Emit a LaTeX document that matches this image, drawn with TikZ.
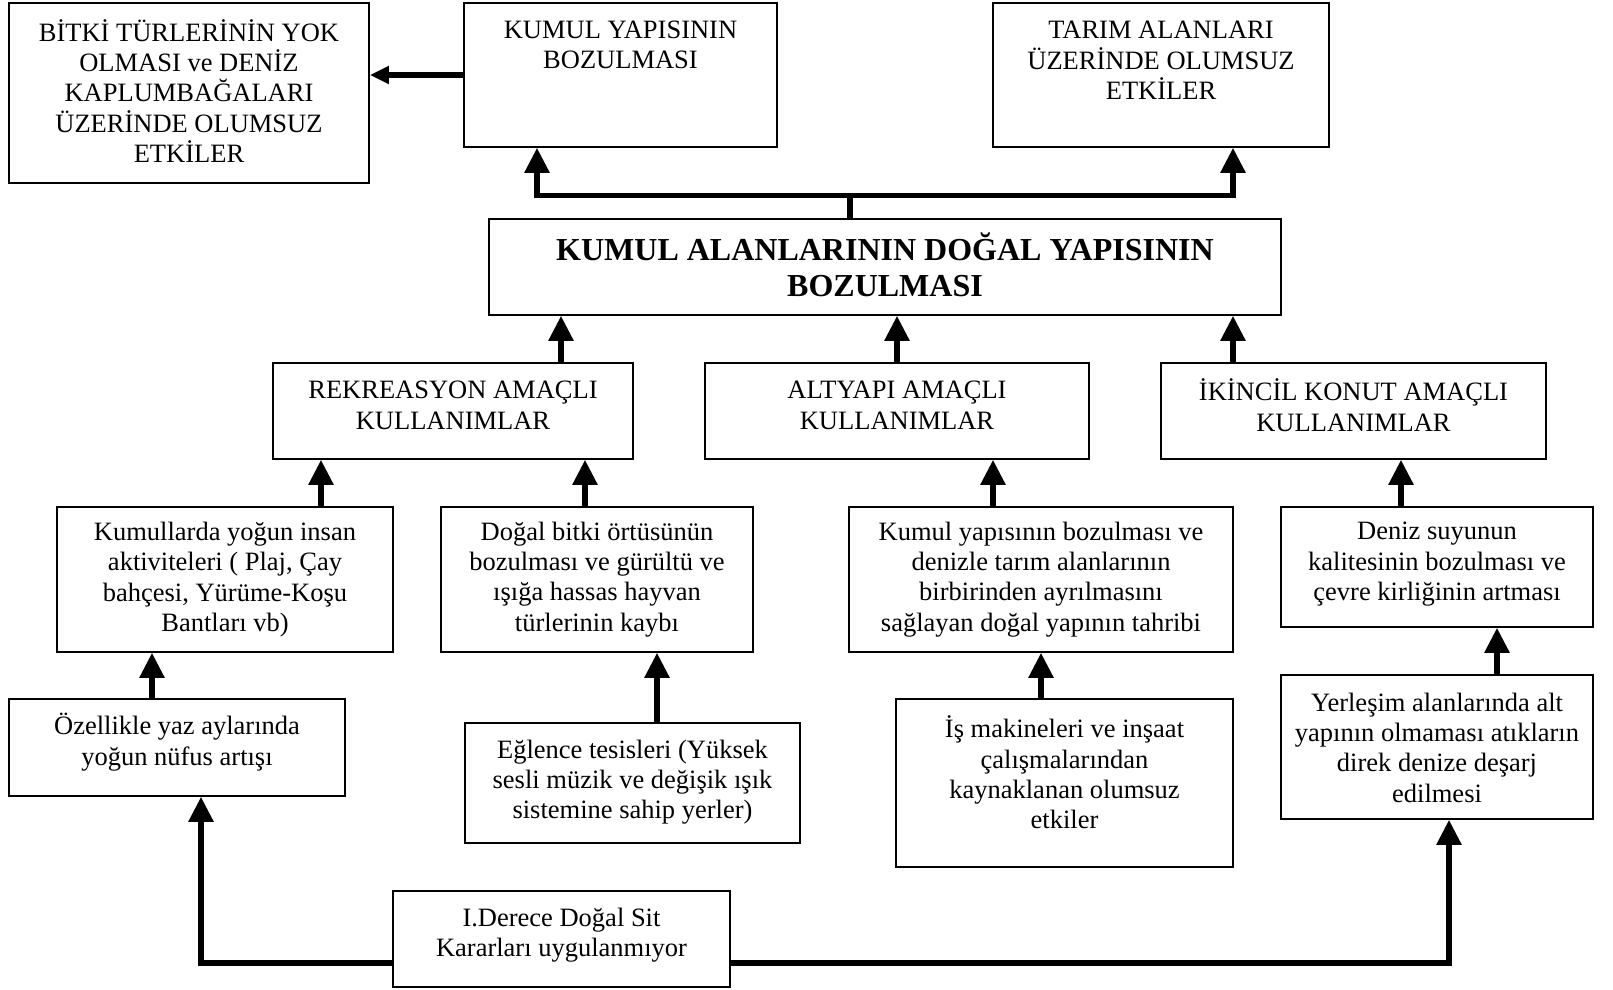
\documentclass[tikz,border=0pt]{standalone}
\usepackage{fontspec}
\setmainfont{Liberation Serif}
\usetikzlibrary{arrows.meta}
\begin{document}
\begin{tikzpicture}[x=1pt, y=-1pt,
  box/.style 2 args={draw=black, line width=1.6pt, inner sep=0pt,
    minimum width=#1, minimum height=#2},
  txt/.style={align=center, inner sep=0pt,
    font=\fontsize{26.5}{30.3}\selectfont},
  hdr/.style={align=center, inner sep=0pt,
    font=\fontsize{32}{36}\selectfont\bfseries},
  conn/.style={line width=5.5pt},
  arr/.style={conn, -{Triangle[length=25pt,width=24pt]}},
  arrsm/.style={conn, -{Triangle[length=19pt,width=17pt]}},
]
\useasboundingbox (0,0) rectangle (1613,989);

% ---------- top row: consequences ----------
\node[box={360pt}{180pt}] (bitki) at (189,93) {};
\node[txt] (bitkit) at (189,91) {BİTKİ TÜRLERİNİN YOK\\OLMASI ve DENİZ\\KAPLUMBAĞALARI\\ÜZERİNDE OLUMSUZ\\ETKİLER};

\node[box={313pt}{144pt}] (kyb) at (620.5,75) {};
\node[txt] (kybt) at (620.5,45.2) {KUMUL YAPISININ\\BOZULMASI};

\node[box={336pt}{144pt}] (tarim) at (1161,75) {};
\node[txt] (tarimt) at (1161,60.3) {TARIM ALANLARI\\ÜZERİNDE OLUMSUZ\\ETKİLER};

% ---------- central problem ----------
\node[box={792pt}{96pt}] (main) at (885,267) {};
\node[hdr] (maint) at (885,265) {KUMUL ALANLARININ DOĞAL YAPISININ\\BOZULMASI};

% ---------- kinds of use ----------
\node[box={360pt}{96pt}] (rek) at (453,411) {};
\node[txt] (rekt) at (453,405.2) {REKREASYON AMAÇLI\\KULLANIMLAR};

\node[box={384pt}{96pt}] (alt) at (897,411) {};
\node[txt] (altt) at (897,405.2) {ALTYAPI AMAÇLI\\KULLANIMLAR};

\node[box={385pt}{96pt}] (iki) at (1353.5,411) {};
\node[txt] (ikit) at (1353.5,405.2) {İKİNCİL KONUT AMAÇLI\\KULLANIMLAR};

% ---------- direct effects ----------
\node[box={336pt}{145pt}] (kum) at (225,579.5) {};
\node[txt] (kumt) at (225,579.5) {Kumullarda yoğun insan\\aktiviteleri ( Plaj, Çay\\bahçesi, Yürüme-Koşu\\Bantları vb)};

\node[box={312pt}{145pt}] (dog) at (597,579.5) {};
\node[txt] (dogt) at (597,579.5) {Doğal bitki örtüsünün\\bozulması ve gürültü ve\\ışığa hassas hayvan\\türlerinin kaybı};

\node[box={384pt}{145pt}] (kyp) at (1041,579.5) {};
\node[txt] (kypt) at (1041,579.5) {Kumul yapısının bozulması ve\\denizle tarım alanlarının\\birbirinden ayrılmasını\\sağlayan doğal yapının tahribi};

\node[box={312pt}{120pt}] (den) at (1437,567) {};
\node[txt] (dent) at (1437,564.3) {Deniz suyunun\\kalitesinin bozulması ve\\çevre kirliğinin artması};

% ---------- causes ----------
\node[box={336pt}{97pt}] (oze) at (177,747.5) {};
\node[txt] (ozet) at (177,742.2) {Özellikle yaz aylarında\\yoğun nüfus artışı};

\node[box={335pt}{120pt}] (egl) at (632.5,783) {};
\node[txt] (eglt) at (632.5,782.3) {Eğlence tesisleri (Yüksek\\sesli müzik ve değişik ışık\\sistemine sahip yerler)};

\node[box={337pt}{168pt}] (ism) at (1064.5,783) {};
\node[txt] (ismt) at (1064.5,772.5) {İş makineleri ve inşaat\\çalışmalarından\\kaynaklanan olumsuz\\etkiler};

\node[box={312pt}{144pt}] (yer) at (1437,747) {};
\node[txt] (yert) at (1437,747.5) {Yerleşim alanlarında alt\\yapının olmaması atıkların\\direk denize deşarj\\edilmesi};

\node[box={337pt}{96pt}] (der) at (561.5,939) {};
\node[txt] (dert) at (561.5,935.2) {I.Derece Doğal Sit\\Kararları uygulanmıyor};

% ---------- connector columns ----------
\coordinate (split) at (850,195.5);
\coordinate (jl) at (537,195.5);
\coordinate (jr) at (1233,195.5);
\coordinate (c1) at (561,0);
\coordinate (c2) at (897,0);
\coordinate (c3) at (1233,0);
\coordinate (c4) at (321,0);
\coordinate (c5) at (585,0);
\coordinate (c6) at (993,0);
\coordinate (c7) at (1401,0);
\coordinate (c8) at (152,0);
\coordinate (c9) at (657,0);
\coordinate (c10) at (1041,0);
\coordinate (c11) at (1497,0);
\coordinate (dl) at (201,963);
\coordinate (dr) at (1449,963);

% ---------- connectors ----------
\draw[arrsm] (kyb.west) -- (kyb.west -| bitki.east);

\draw[conn] (main.north -| split) -- (split);
\draw[arr] (split) -- (jl) -- (jl |- kyb.south);
\draw[arr] (split) -- (jr) -- (jr |- tarim.south);

\draw[arr] (rek.north -| c1) -- (main.south -| c1);
\draw[arr] (alt.north -| c2) -- (main.south -| c2);
\draw[arr] (iki.north -| c3) -- (main.south -| c3);

\draw[arr] (kum.north -| c4) -- (rek.south -| c4);
\draw[arr] (dog.north -| c5) -- (rek.south -| c5);
\draw[arr] (kyp.north -| c6) -- (alt.south -| c6);
\draw[arr] (den.north -| c7) -- (iki.south -| c7);

\draw[arr] (oze.north -| c8) -- (kum.south -| c8);
\draw[arr] (egl.north -| c9) -- (dog.south -| c9);
\draw[arr] (ism.north -| c10) -- (kyp.south -| c10);
\draw[arr] (yer.north -| c11) -- (den.south -| c11);

\draw[arr] (der.west |- dl) -- (dl) -- (dl |- oze.south);
\draw[arr] (der.east |- dr) -- (dr) -- (dr |- yer.south);
\end{tikzpicture}
\end{document}
